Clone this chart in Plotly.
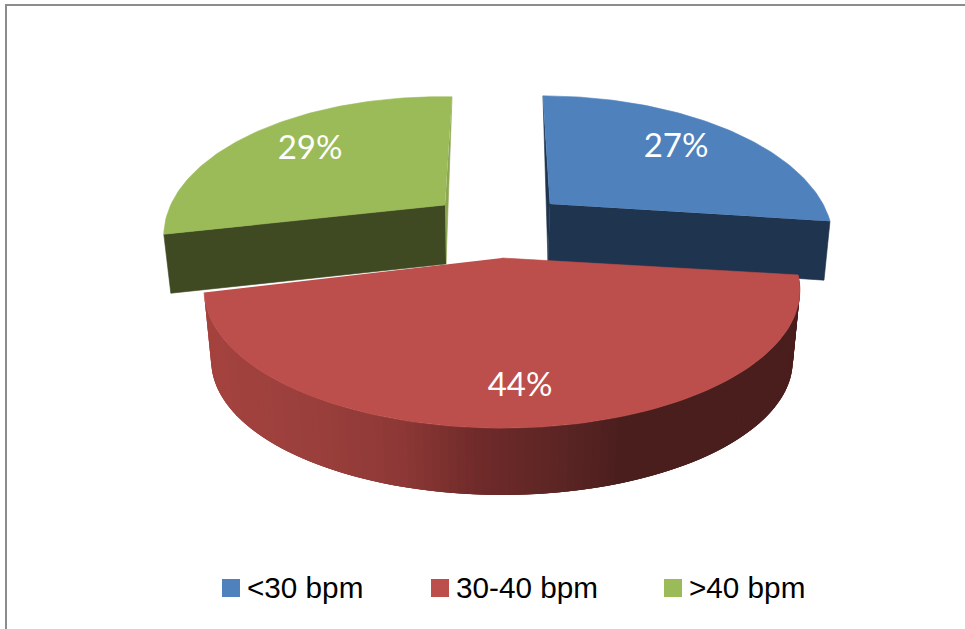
import numpy as np
import plotly.graph_objects as go

# Share of patients per heart-rate band
categories = ["<30 bpm", "30-40 bpm", ">40 bpm"]
shares = [27, 44, 29]

TOP_COLORS = ["#4f81bd", "#bc4f4c", "#9bbb59"]
WALL_COLORS = ["#1f344e", None, "#3f4a23"]
SLIVER_COLORS = ["#1f344e", None, "#8ca651"]

# Perspective disc used for each wedge: apex, radii, foreshortening, shear, tilt
DISC = {
    0: dict(cx=550, cy=204, rx=273, ry=133, k=0.23, shear=0.065, tilt=0.0),
    1: dict(cx=502, cy=258, rx=290, ry=131, k=0.23, shear=0.0, tilt=0.0),
    2: dict(cx=445, cy=205, rx=271.5, ry=133, k=0.23, shear=-0.065, tilt=0.021),
}
RED_FLOOR = dict(cx=502, cy=330, rx=283, ry=127, k=0.23, shear=0.0, tilt=0.0)
WALL_DROP = {
    0: ((-2, 58), (-6, 59)),
    2: ((1, 59), (7, 59)),
}
LABEL_AT = [(676, 149), (520, 388), (310, 151)]
LEGEND_AT = [231, 440, 673]
LEGEND_Y = 588

# Side-wall shading of the large wedge, left to right
SHADE = [(205, "#a5433f"), (300, "#9c403d"), (400, "#8e3937"), (480, "#6f2b2a"),
         (560, "#5c2625"), (625, "#4b1e1e"), (800, "#4b1e1e")]


def project(theta, d):
    """Angle clockwise from twelve o'clock to page coordinates."""
    X, Y = np.sin(theta), -np.cos(theta)
    f = 1.0 / (1.0 - d["k"] * Y)
    dx, dy = d["rx"] * X * f, d["ry"] * Y * f
    return d["cx"] + dx + d["shear"] * dy, d["cy"] + dy + d["tilt"] * dx


def shade(x):
    xs = [s[0] for s in SHADE]
    rgb = np.array([[int(s[1][i:i + 2], 16) for i in (1, 3, 5)] for s in SHADE])
    vals = [np.interp(x, xs, rgb[:, c]) for c in range(3)]
    return "rgb(%d,%d,%d)" % tuple(vals)


def poly(xs, ys, color):
    return go.Scatter(x=list(xs), y=list(ys), mode="lines", fill="toself",
                      fillcolor=color, line=dict(color=color, width=0.6),
                      hoverinfo="skip", showlegend=False)


edges = 2 * np.pi * np.concatenate([[0], np.cumsum(shares)]) / sum(shares)
fig = go.Figure()

# The two pulled-out wedges sit behind the large one
for i in (2, 0):
    d = DISC[i]
    a0, a1 = edges[i], edges[i + 1]
    t = np.linspace(a0, a1, 90)
    ax, ay = project(t, d)
    apex = (d["cx"], d["cy"])
    # corner on the front cut, far corner at twelve o'clock
    front_idx, rear_idx = (-1, 0) if i == 0 else (0, -1)
    corner = (ax[front_idx], ay[front_idx])
    rear = (ax[rear_idx], ay[rear_idx])
    drop_apex, drop_corner = WALL_DROP[i]
    low_apex = (apex[0] + drop_apex[0], apex[1] + drop_apex[1])
    low_corner = (corner[0] + drop_corner[0], corner[1] + drop_corner[1])
    fig.add_trace(poly([rear[0], low_apex[0], apex[0]],
                       [rear[1], low_apex[1], apex[1]], SLIVER_COLORS[i]))
    fig.add_trace(poly([apex[0], corner[0], low_corner[0], low_apex[0]],
                       [apex[1], corner[1], low_corner[1], low_apex[1]], WALL_COLORS[i]))
    fig.add_trace(poly([apex[0], *ax], [apex[1], *ay], TOP_COLORS[i]))

# Large wedge: shaded rim painted strip over strip, then its top face
top, floor = DISC[1], RED_FLOOR
t = np.linspace(edges[1], edges[2], 121)
tx, ty = project(t, top)
bx, by = project(t, floor)
for j in range(len(t) - 1):
    color = shade((tx[j] + tx[j + 1]) / 2)
    # each strip runs under its neighbour so no seam shows between them
    m = min(j + 3, len(t) - 1)
    fig.add_trace(go.Scatter(
        x=[tx[j], tx[m], bx[m], bx[j]], y=[ty[j], ty[m], by[m], by[j]],
        mode="lines", fill="toself", fillcolor=color, line=dict(width=0),
        hoverinfo="skip", showlegend=False,
    ))
fig.add_trace(poly([top["cx"], *tx], [top["cy"], *ty], TOP_COLORS[1]))

# Percentage labels
fig.add_trace(go.Scatter(
    x=[p[0] for p in LABEL_AT], y=[p[1] for p in LABEL_AT],
    mode="text", text=[f"{v}%" for v in shares],
    textposition="middle center", hoverinfo="skip", showlegend=False,
    textfont=dict(family="Lato", size=33, color="white"),
))

# Key below the chart
for name, color, x in zip(categories, TOP_COLORS, LEGEND_AT):
    fig.add_trace(go.Scatter(
        x=[x], y=[LEGEND_Y], mode="markers", name=name, showlegend=False,
        marker=dict(symbol="square", size=18, color=color),
        hoverinfo="skip",
    ))
    fig.add_annotation(x=x + 16, y=LEGEND_Y - 1, text=name, showarrow=False,
                       xanchor="left", yanchor="middle", xshift=-2,
                       font=dict(family="Liberation Sans", size=29.7, color="black"))

fig.update_layout(
    width=965, height=629, margin=dict(l=0, r=0, t=0, b=0),
    paper_bgcolor="white", plot_bgcolor="white", showlegend=False,
    xaxis=dict(range=[0, 965], visible=False, fixedrange=True),
    yaxis=dict(range=[629, 0], visible=False, fixedrange=True),
    shapes=[
        dict(type="line", x0=6, x1=6, y0=5, y1=629, line=dict(color="#8c8c8c", width=2)),
        dict(type="line", x0=5, x1=965, y0=5, y1=5, line=dict(color="#8c8c8c", width=2)),
    ],
)
fig.write_html("out.html", config=dict(displayModeBar=False))
